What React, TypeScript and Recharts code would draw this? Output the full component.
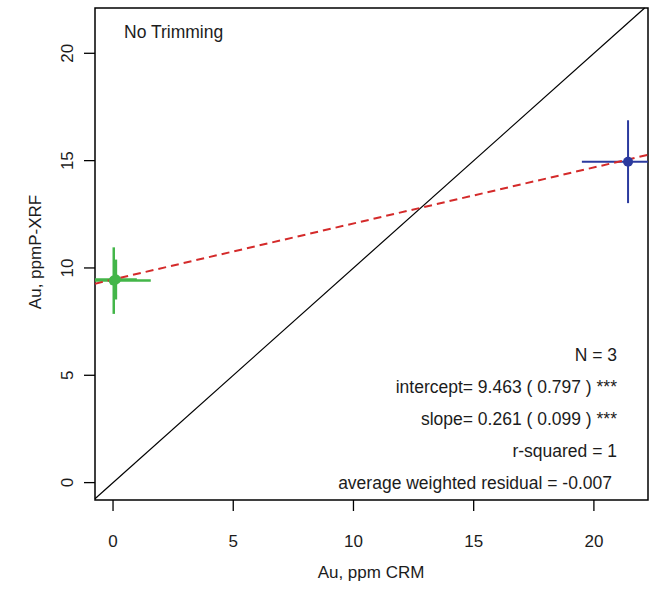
import {
  ComposedChart,
  ErrorBar,
  ReferenceArea,
  ReferenceLine,
  Scatter,
  XAxis,
  YAxis,
} from "recharts";

const X_DOMAIN: [number, number] = [-0.75, 22.25];
const Y_DOMAIN: [number, number] = [-0.81, 22.11];
const X_TICKS = [0, 5, 10, 15, 20];
const Y_TICKS = [0, 5, 10, 15, 20];

// two nearly coincident green samples, one blue (bars cut by the frame are read as visible)
const greenA = [{ x: 0.03, y: 9.41, xErr: [0.78, 1.54], yErr: 1.55 }];
const greenB = [{ x: 0.12, y: 9.46, xErr: 0.87, yErr: 0.93 }];
const blue = [{ x: 21.42, y: 14.95, xErr: [1.92, 0.83], yErr: 1.93 }];

const INTERCEPT = 9.463;
const SLOPE = 0.261;

const STATS = [
  "N = 3",
  "intercept= 9.463 ( 0.797 ) ***",
  "slope= 0.261 ( 0.099 ) ***",
  "r-squared = 1",
  "average weighted residual = -0.007",
];

const FONT = "'Liberation Sans', Arial, sans-serif";
const INK = "#1c1c1c";
const GREEN = "#43b649";
const BLUE = "#2b3a9e";

const XTick = ({ x, y, payload }: any) => (
  <text x={x} y={y} dy="0.71em" textAnchor="middle" fontSize={17} fontFamily={FONT} fill={INK}>
    {payload.value}
  </text>
);

const YTick = ({ x, y, payload }: any) => (
  <text
    x={x}
    y={y}
    transform={`rotate(-90 ${x} ${y})`}
    textAnchor="middle"
    fontSize={17}
    fontFamily={FONT}
    fill={INK}
  >
    {payload.value}
  </text>
);

const dot = (color: string) => (p: any) => <circle cx={p.cx} cy={p.cy} r={5} fill={color} />;

export default function App() {
  return (
    <div style={{ position: "absolute", left: 0, top: 0, background: "#fff" }}>
      <ComposedChart width={657} height={590} margin={{ top: 8, right: 9, left: 0, bottom: 0 }}>
        <XAxis
          type="number"
          dataKey="x"
          domain={X_DOMAIN}
          ticks={X_TICKS}
          allowDataOverflow
          axisLine={false}
          tickSize={11}
          tickMargin={24}
          tickLine={{ stroke: "#000", strokeWidth: 1.3 }}
          tick={<XTick />}
          height={90}
        />
        <YAxis
          type="number"
          dataKey="y"
          domain={Y_DOMAIN}
          ticks={Y_TICKS}
          allowDataOverflow
          axisLine={false}
          tickSize={11}
          tickMargin={11}
          tickLine={{ stroke: "#000", strokeWidth: 1.3 }}
          tick={<YTick />}
          width={95}
        />
        <ReferenceArea
          x1={X_DOMAIN[0]}
          x2={X_DOMAIN[1]}
          y1={Y_DOMAIN[0]}
          y2={Y_DOMAIN[1]}
          fill="none"
          stroke="#000"
          strokeWidth={1.5}
        />
        <ReferenceLine
          segment={[
            { x: X_DOMAIN[0], y: X_DOMAIN[0] },
            { x: Y_DOMAIN[1], y: Y_DOMAIN[1] },
          ]}
          stroke="#000"
          strokeWidth={1.2}
        />
        <Scatter data={greenA} isAnimationActive={false} shape={dot(GREEN)}>
          <ErrorBar dataKey="xErr" direction="x" width={0} stroke={GREEN} strokeWidth={2.5} />
          <ErrorBar dataKey="yErr" direction="y" width={0} stroke={GREEN} strokeWidth={2.5} />
        </Scatter>
        <Scatter data={greenB} isAnimationActive={false} shape={dot(GREEN)}>
          <ErrorBar dataKey="xErr" direction="x" width={0} stroke={GREEN} strokeWidth={2.5} />
          <ErrorBar dataKey="yErr" direction="y" width={0} stroke={GREEN} strokeWidth={2.5} />
        </Scatter>
        <Scatter data={blue} isAnimationActive={false} shape={dot(BLUE)}>
          <ErrorBar dataKey="xErr" direction="x" width={0} stroke={BLUE} strokeWidth={2} />
          <ErrorBar dataKey="yErr" direction="y" width={0} stroke={BLUE} strokeWidth={2} />
        </Scatter>
        <ReferenceLine
          segment={[
            { x: X_DOMAIN[0], y: INTERCEPT + SLOPE * X_DOMAIN[0] },
            { x: X_DOMAIN[1], y: INTERCEPT + SLOPE * X_DOMAIN[1] },
          ]}
          stroke="#d42a2a"
          strokeWidth={2}
          strokeDasharray="8 5"
        />
        <text x={124} y={38} fontSize={17.5} fontFamily={FONT} fill={INK}>
          No Trimming
        </text>
        {STATS.map((s, i) => (
          <text
            key={s}
            x={i === STATS.length - 1 ? 612 : 617}
            y={361 + i * 32}
            textAnchor="end"
            fontSize={17.5}
            fontFamily={FONT}
            fill={INK}
          >
            {s}
          </text>
        ))}
        <text x={371} y={578} textAnchor="middle" fontSize={17} fontFamily={FONT} fill={INK}>
          Au, ppm CRM
        </text>
        <text
          x={41}
          y={252}
          transform="rotate(-90 41 252)"
          textAnchor="middle"
          fontSize={17}
          fontFamily={FONT}
          fill={INK}
        >
          Au, ppmP-XRF
        </text>
      </ComposedChart>
    </div>
  );
}
